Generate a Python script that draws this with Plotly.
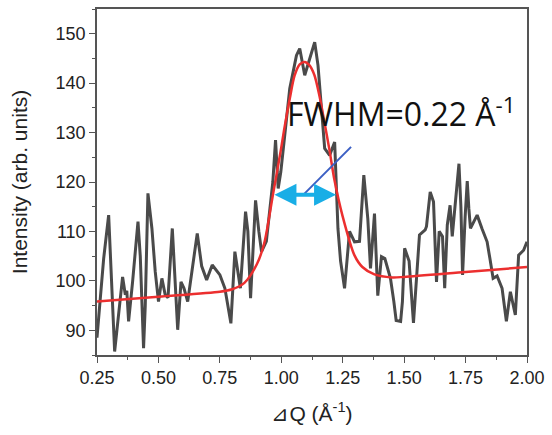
import plotly.graph_objects as go

# Measured (noisy) intensity trace
dq = [0.25, 0.2568, 0.2771, 0.2974, 0.3112, 0.3218, 0.3542, 0.3652, 0.3713, 0.3786, 0.3948,
      0.4168, 0.4261, 0.4395, 0.4464, 0.4573, 0.4735, 0.4869, 0.5003, 0.5141, 0.5275,
      0.5390, 0.5565, 0.5675, 0.5784, 0.5918, 0.6040, 0.6191, 0.6345, 0.6580, 0.6759,
      0.6962, 0.7190, 0.7502, 0.7705, 0.7949, 0.8111, 0.8221, 0.8335, 0.8546, 0.8640,
      0.8750, 0.8953, 0.9087, 0.9197, 0.9392, 0.9534, 0.9656, 0.9766, 0.9874, 0.9980,
      1.0142, 1.0345, 1.0617, 1.0751, 1.0954, 1.1157, 1.1360, 1.1494, 1.1632, 1.1766,
      1.1969, 1.2172, 1.2306, 1.2413, 1.2575, 1.2778, 1.2981, 1.3184, 1.3359, 1.3521,
      1.3631, 1.3793, 1.3927, 1.4077, 1.4215, 1.4443, 1.4581, 1.4675, 1.4857, 1.4930,
      1.5020, 1.5201, 1.5380, 1.5502, 1.5624, 1.5856, 1.5909, 1.6061, 1.6195, 1.6317,
      1.6427, 1.6561, 1.6650, 1.6756, 1.6869, 1.6958, 1.7122, 1.7231, 1.7310, 1.7378,
      1.7483, 1.7568, 1.7634, 1.7699, 1.7837, 1.7971, 1.8174, 1.8377, 1.8491, 1.8621,
      1.8783, 1.8986, 1.9161, 1.9323, 1.9526, 1.9659, 1.9862, 2.0]
intensity = [88.5, 92.4, 104.5, 113.3, 97.2, 85.7, 100.8, 97.2, 98.0, 91.8, 99.8,
             112.0, 105.0, 86.4, 95.0, 117.7, 110.6, 101.9, 95.8, 100.5, 97.2,
             96.6, 110.6, 99.0, 90.1, 99.8, 98.5, 95.8, 101.0, 109.6, 103.0,
             100.2, 103.2, 101.2, 98.5, 91.4, 105.9, 101.9, 98.5, 114.0, 110.0,
             96.5, 116.3, 110.0, 105.9, 108.0, 114.6, 120.0, 128.5, 118.7, 122.0,
             130.1, 138.9, 145.6, 147.0, 141.6, 145.0, 148.3, 143.6, 135.5, 126.8,
             125.4, 128.1, 110.6, 104.0, 98.5, 110.0, 107.9, 108.0, 121.4, 112.6,
             102.5, 113.6, 97.0, 104.9, 104.5, 100.5, 95.8, 92.0, 91.8, 95.8,
             106.6, 104.0, 91.5, 99.8, 109.3, 110.3, 111.0, 118.0, 116.0, 99.8,
             110.0, 109.0, 98.5, 111.3, 115.3, 109.0, 117.0, 123.7, 115.0, 101.2,
             113.0, 120.2, 114.6, 110.6, 112.0, 113.3, 110.5, 107.9, 104.5, 100.5,
             101.0, 98.5, 91.8, 97.8, 93.1, 105.2, 106.2, 107.9]

# Gaussian fit curve
fit_dq = [0.25, 0.50, 0.75, 0.80, 0.85, 0.90, 0.93, 0.966, 1.00, 1.013, 1.035,
          1.054, 1.075, 1.095, 1.115, 1.135, 1.155, 1.176, 1.196, 1.216, 1.25,
          1.2975, 1.33, 1.379, 1.45, 1.50, 1.75, 2.00]
fit_int = [95.8, 96.8, 97.8, 98.3, 99.6, 103.3, 107.5, 117.4, 127.0, 131.0, 137.0,
           141.5, 143.8, 144.3, 143.6, 141.6, 137.5, 132.0, 126.5, 120.5, 113.0,
           105.2, 102.8, 101.3, 100.7, 100.8, 101.8, 102.8]

x_ticks = [0.25, 0.50, 0.75, 1.00, 1.25, 1.50, 1.75, 2.00]
x_tick_text = ["0.25", "0.50", "0.75", "1.00", "1.25", "1.50", "1.75", "2.00"]
y_ticks = [90, 100, 110, 120, 130, 140, 150]

fwhm_left, fwhm_right, fwhm_level = 0.966, 1.223, 117.4
pointer_start = (1.0914, 117.5)
pointer_end = (1.284, 127.1)

fig = go.Figure()
fig.add_trace(go.Scatter(x=dq, y=intensity, mode="lines",
                         line=dict(color="#4a4a4a", width=3), showlegend=False))
fig.add_trace(go.Scatter(x=fit_dq, y=fit_int, mode="lines",
                         line=dict(color="#ec2f2f", width=2.5, shape="spline", smoothing=0.8),
                         showlegend=False))

# blue pointer line
fig.add_shape(type="line", x0=pointer_start[0], y0=pointer_start[1],
              x1=pointer_end[0], y1=pointer_end[1],
              line=dict(color="#3b5fc4", width=2))
# cyan double arrow
fig.add_annotation(x=fwhm_right, y=fwhm_level, ax=fwhm_left, ay=fwhm_level,
                   xref="x", yref="y", axref="x", ayref="y", text="",
                   showarrow=True, arrowhead=2, startarrowhead=2, arrowside="end+start",
                   arrowwidth=4, arrowsize=1.1, startarrowsize=1.1,
                   arrowcolor="#19aee6", standoff=0, startstandoff=0)
fig.add_annotation(x=1.016, y=134.2, xref="x", yref="y", xanchor="left", yanchor="middle",
                   text="FWHM=0.22 Å<sup>-1</sup>", showarrow=False,
                   font=dict(family="Open Sans, Liberation Sans", size=32, color="#111111"))

axis_common = dict(showline=True, linecolor="#555555", linewidth=1.5, mirror=True,
                   ticks="outside", ticklen=6, tickwidth=1.2, tickcolor="#555555",
                   showgrid=False, zeroline=False,
                   tickfont=dict(family="Liberation Sans, Arial", size=18, color="#222222"))

fig.update_xaxes(range=[0.25, 2.0], tickvals=x_ticks, ticktext=x_tick_text,
                 minor=dict(ticks="outside", ticklen=3, dtick=0.125, tick0=0.25,
                            tickcolor="#555555"),
                 title=dict(text="⊿Q (Å<sup>-1</sup>)", standoff=19,
                            font=dict(family="Liberation Sans, Arial", size=21, color="#222222")),
                 **axis_common)
fig.update_yaxes(range=[85, 155], tickvals=y_ticks,
                 minor=dict(ticks="outside", ticklen=3, dtick=5, tick0=90,
                            tickcolor="#555555"),
                 title=dict(text="Intensity (arb. units)", standoff=22,
                            font=dict(family="Liberation Sans, Arial", size=21, color="#222222")),
                 **axis_common)

fig.update_layout(width=552, height=435, margin=dict(l=97, r=24, t=7, b=80),
                  plot_bgcolor="white", paper_bgcolor="white")

fig.write_html("out.html", config={"displayModeBar": False},
               post_script="document.body.style.margin='0';document.body.style.padding='0';")
